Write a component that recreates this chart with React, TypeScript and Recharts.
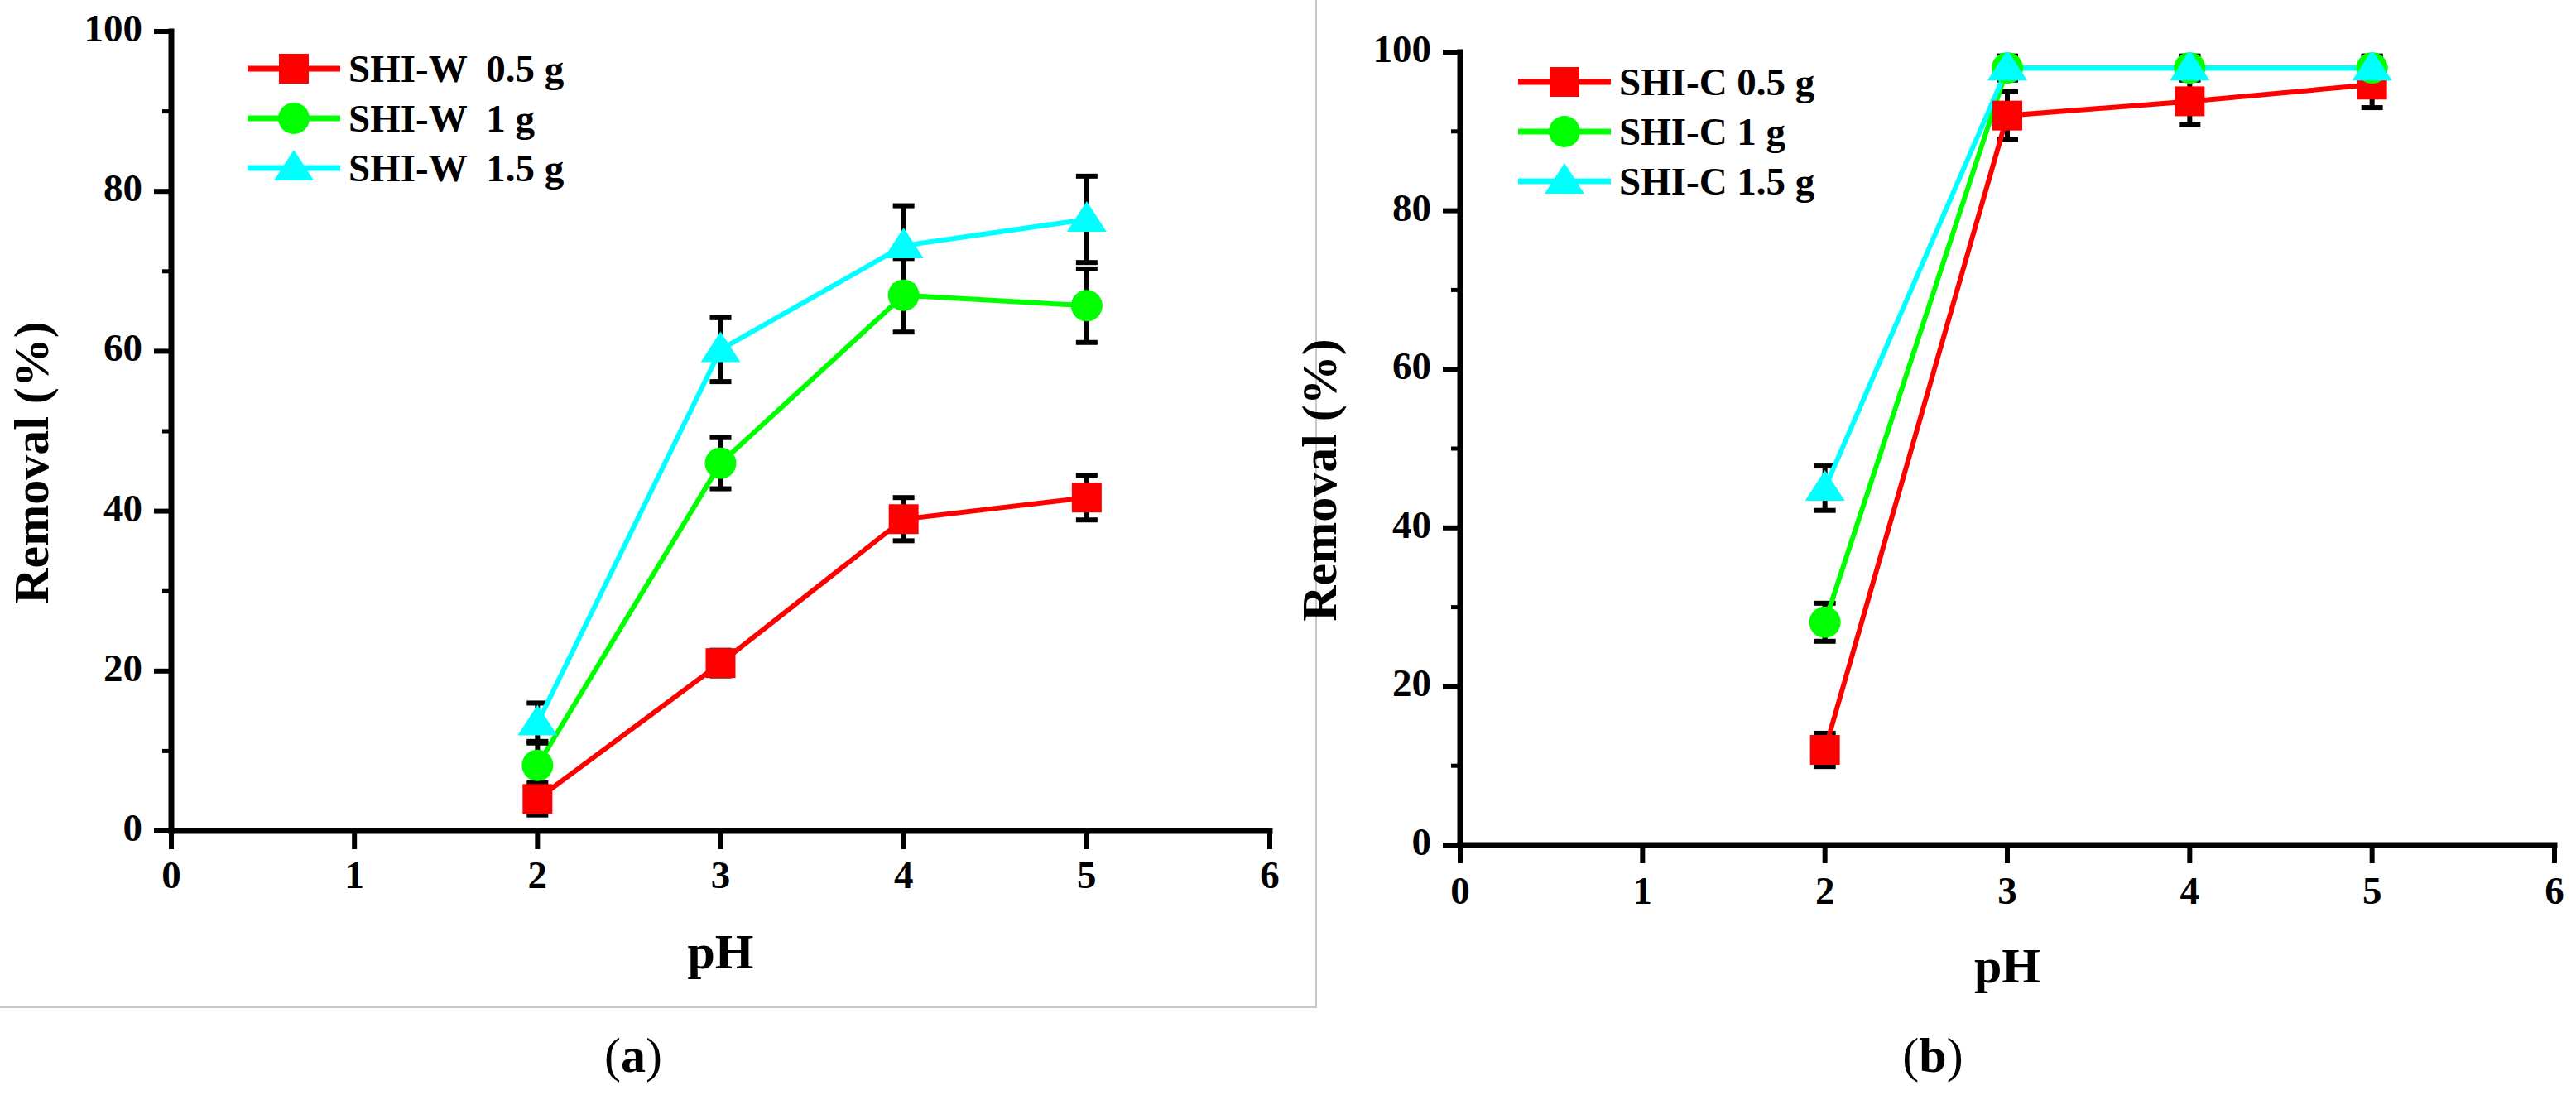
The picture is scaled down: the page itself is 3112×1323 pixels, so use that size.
import React from 'react';
import { LineChart, Line, XAxis, YAxis, ErrorBar, Legend } from 'recharts';

// ---------- data ----------
const pH = [2, 3, 4, 5];
const xTicks = [0, 1, 2, 3, 4, 5, 6];
const yTicks = [0, 10, 20, 30, 40, 50, 60, 70, 80, 90, 100];

const wLabels = ['SHI-W  0.5 g', 'SHI-W  1 g', 'SHI-W  1.5 g'];
const w05 = [4, 21, 39, 41.7];
const w05Err = [2, 1.6, 2.7, 2.8];
const w1 = [8.2, 46, 67, 65.7];
const w1Err = [3, 3.2, 4.6, 4.6];
const w15 = [13.5, 60.2, 73.2, 76.5];
const w15Err = [2.5, 4, 5, 5.4];

const cLabels = ['SHI-C 0.5 g', 'SHI-C 1 g', 'SHI-C 1.5 g'];
const c05 = [12, 92, 93.8, 95.9];
const c05Err = [2.1, 3, 2.9, 2.9];
const c1 = [28.1, 98, 98, 98];
const c1Err = [2.4, 1.5, 1.5, 1.5];
const c15 = [45, 98, 98, 98];
const c15Err = [2.8, 1.5, 1.5, 1.5];

const RED = '#ff0000';
const GREEN = '#00ff00';
const CYAN = '#00ffff';
const COLORS = [RED, GREEN, CYAN];
const FONT = '"Liberation Serif", "Times New Roman", serif';

const buildData = (a: number[], ae: number[], b: number[], be: number[], c: number[], ce: number[]) =>
  pH.map((p, i) => ({ ph: p, v1: a[i], e1: ae[i], v2: b[i], e2: be[i], v3: c[i], e3: ce[i] }));

const dataW = buildData(w05, w05Err, w1, w1Err, w15, w15Err);
const dataC = buildData(c05, c05Err, c1, c1Err, c15, c15Err);

// ---------- markers ----------
const Square = ({ cx, cy, color }: any) => (
  <rect x={cx - 18} y={cy - 18} width={36} height={36} fill={color} />
);
const Circ = ({ cx, cy, color }: any) => <circle cx={cx} cy={cy} r={19} fill={color} />;
const Tri = ({ cx, cy, color }: any) => (
  <polygon points={`${cx},${cy - 22} ${cx - 24},${cy + 15} ${cx + 24},${cy + 15}`} fill={color} />
);
const SHAPES = [Square, Circ, Tri];

const makeDot = (idx: number) => (props: any) => {
  const { cx, cy, index } = props;
  const S = SHAPES[idx];
  if (cx == null || cy == null) return <g key={`e-${idx}-${index}`} />;
  return <S key={`d-${idx}-${index}`} cx={cx} cy={cy} color={COLORS[idx]} />;
};

// ---------- ticks ----------
const YTick = (props: any) => {
  const { x, y, payload } = props;
  const v = payload.value;
  const major = v % 20 === 0;
  return (
    <g>
      <line x1={x} x2={x - (major ? 21 : 11)} y1={y} y2={y} stroke="#000" strokeWidth={major ? 6 : 5} />
      {major && (
        <text x={x - 35} y={y + 12} textAnchor="end" fontSize={47} fontWeight="bold" fontFamily={FONT} fill="#000">
          {v}
        </text>
      )}
    </g>
  );
};

const makeXTick = (dy: number) => (props: any) => {
  const { x, y, payload } = props;
  return (
    <g>
      <line x1={x} x2={x} y1={y} y2={y + 22} stroke="#000" strokeWidth={6} />
      <text x={x} y={y + dy} textAnchor="middle" fontSize={47} fontWeight="bold" fontFamily={FONT} fill="#000">
        {payload.value}
      </text>
    </g>
  );
};

// ---------- legend ----------
const makeLegend = (labels: string[]) => () => (
  <svg width={460} height={200} style={{ display: 'block', overflow: 'visible' }}>
    {labels.map((lab, i) => {
      const ry = 33 + i * 60;
      const S = SHAPES[i];
      return (
        <g key={lab}>
          <line x1={10} x2={122} y1={ry} y2={ry} stroke={COLORS[i]} strokeWidth={7} />
          <S cx={66} cy={ry} color={COLORS[i]} />
          <text x={132} y={ry + 16} fontSize={47} fontWeight="bold" fontFamily={FONT} fill="#000" style={{ whiteSpace: 'pre' }}>
            {lab}
          </text>
        </g>
      );
    })}
  </svg>
);

type PanelProps = {
  data: any[];
  labels: string[];
  left: number;
  width: number;
  height: number;
  margin: { top: number; right: number; left: number; bottom: number };
  yAxisWidth: number;
  xAxisHeight: number;
  xTickDy: number;
  yTitleX: number;
  legendLeft: number;
  legendTop: number;
};

function Panel(p: PanelProps) {
  return (
    <div style={{ position: 'absolute', left: p.left, top: 0, width: p.width, height: p.height }}>
      <LineChart width={p.width} height={p.height} data={p.data} margin={p.margin}>
        <XAxis
          type="number"
          dataKey="ph"
          domain={[0, 6]}
          ticks={xTicks}
          interval={0}
          allowDataOverflow
          height={p.xAxisHeight}
          tickSize={0}
          tickMargin={0}
          tickLine={false}
          tick={makeXTick(p.xTickDy)}
          axisLine={{ stroke: '#000', strokeWidth: 7, strokeLinecap: 'square' }}
          label={(lp: any) => {
            const vb = lp.viewBox;
            return (
              <text
                x={vb.x + vb.width / 2}
                y={vb.y + 166}
                textAnchor="middle"
                fontSize={60}
                fontWeight="bold"
                fontFamily={FONT}
                fill="#000"
              >
                pH
              </text>
            );
          }}
        />
        <YAxis
          type="number"
          domain={[0, 100]}
          ticks={yTicks}
          interval={0}
          allowDataOverflow
          width={p.yAxisWidth}
          tickSize={0}
          tickMargin={0}
          tickLine={false}
          tick={YTick}
          axisLine={{ stroke: '#000', strokeWidth: 7, strokeLinecap: 'square' }}
          label={(lp: any) => {
            const vb = lp.viewBox;
            const cy = vb.y + vb.height / 2 + 38;
            const x = vb.x + p.yTitleX;
            return (
              <text
                x={x}
                y={cy}
                transform={`rotate(-90 ${x} ${cy})`}
                textAnchor="middle"
                fontSize={60}
                fontWeight="bold"
                fontFamily={FONT}
                fill="#000"
              >
                Removal (%)
              </text>
            );
          }}
        />
        <Legend
          layout="vertical"
          align="center"
          verticalAlign="middle"
          content={makeLegend(p.labels)}
          wrapperStyle={{ left: p.legendLeft, top: p.legendTop, width: 460, height: 200 }}
        />
        {[1, 2, 3].map((k, i) => (
          <Line
            key={k}
            type="linear"
            dataKey={`v${k}`}
            name={p.labels[i]}
            stroke={COLORS[i]}
            strokeWidth={6}
            dot={makeDot(i)}
            activeDot={false}
            isAnimationActive={false}
          >
            <ErrorBar dataKey={`e${k}`} direction="y" width={13} stroke="#000" strokeWidth={6} />
          </Line>
        ))}
      </LineChart>
    </div>
  );
}

export default function App() {
  return (
    <div style={{ position: 'absolute', left: 0, top: 0, width: 3112, height: 1323, background: '#fff', overflow: 'hidden' }}>
      <div
        style={{
          position: 'absolute',
          left: 0,
          top: 0,
          width: 1591,
          height: 1218,
          boxSizing: 'border-box',
          borderRight: '2px solid #c8c8c8',
          borderBottom: '2px solid #c8c8c8',
        }}
      />
      <Panel
        data={dataW}
        labels={wLabels}
        left={0}
        width={1589}
        height={1216}
        margin={{ top: 38, right: 55, left: 0, bottom: 0 }}
        yAxisWidth={207}
        xAxisHeight={212}
        xTickDy={69}
        yTitleX={58}
        legendLeft={289}
        legendTop={50}
      />
      <Panel
        data={dataC}
        labels={cLabels}
        left={1550}
        width={1562}
        height={1323}
        margin={{ top: 63, right: 26, left: 0, bottom: 0 }}
        yAxisWidth={214}
        xAxisHeight={302}
        xTickDy={71}
        yTitleX={64}
        legendLeft={274}
        legendTop={66}
      />
      <svg width={3112} height={1323} style={{ position: 'absolute', left: 0, top: 0, pointerEvents: 'none' }}>
        <text x={765} y={1295} textAnchor="middle" fontSize={60} fontFamily={FONT} fill="#000">
          (<tspan fontWeight="bold">a</tspan>)
        </text>
        <text x={2335} y={1295} textAnchor="middle" fontSize={60} fontFamily={FONT} fill="#000">
          (<tspan fontWeight="bold">b</tspan>)
        </text>
      </svg>
    </div>
  );
}
